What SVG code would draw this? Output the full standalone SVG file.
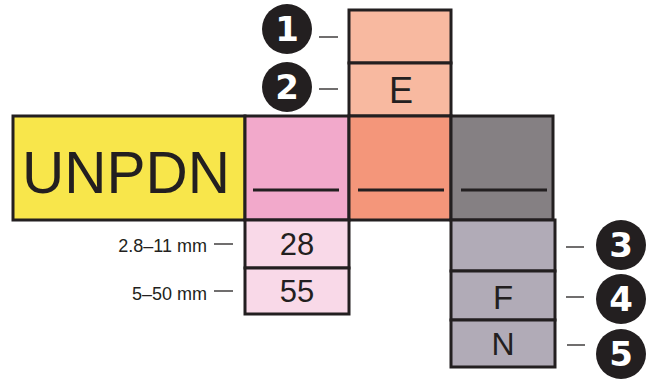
<svg xmlns="http://www.w3.org/2000/svg" width="656" height="383" viewBox="0 0 656 383">
<style>
.b{stroke:#231f20;stroke-width:3}
.t{font-family:"Liberation Sans",Arial,sans-serif;fill:#231f20;text-anchor:middle}
.n{font-family:"DejaVu Sans",sans-serif;font-weight:bold;fill:#fff;text-anchor:middle;font-size:34px}
.l{font-family:"Liberation Sans",Arial,sans-serif;fill:#231f20;font-size:18px;text-anchor:end}
.d{stroke:#231f20;stroke-width:1.3}
.u{stroke:#231f20;stroke-width:3}
</style>
<rect width="656" height="383" fill="#fff"/>
<g id="top1"><rect class="b" x="349" y="10" width="102" height="53" fill="#f8b9a0"/></g>
<g id="top2"><rect class="b" x="349" y="63" width="102" height="53" fill="#f8b9a0"/><text class="t" x="401" y="103" font-size="36">E</text></g>
<g id="main-yellow"><rect class="b" x="13" y="116" width="232" height="104" fill="#f8e64b"/><text class="t" x="126" y="193" font-size="60" textLength="208" lengthAdjust="spacingAndGlyphs">UNPDN</text></g>
<g id="main-pink"><rect class="b" x="245" y="116" width="104" height="104" fill="#f2a9cb"/><line class="u" x1="253" y1="190" x2="339" y2="190"/></g>
<g id="main-orange"><rect class="b" x="349" y="116" width="102" height="104" fill="#f4967a"/><line class="u" x1="358" y1="190" x2="444" y2="190"/></g>
<g id="main-gray"><rect class="b" x="451" y="116" width="102" height="104" fill="#858083"/><line class="u" x1="461" y1="190" x2="547" y2="190"/></g>
<g id="pink28"><rect class="b" x="245" y="220" width="104" height="48" fill="#f9d9e8"/><text class="t" x="297" y="255" font-size="31">28</text></g>
<g id="pink55"><rect class="b" x="245" y="268" width="104" height="46" fill="#f9d9e8"/><text class="t" x="297" y="302" font-size="31">55</text></g>
<g id="gray3"><rect class="b" x="451" y="220" width="104" height="51" fill="#b1abb7"/></g>
<g id="gray4"><rect class="b" x="451" y="271" width="104" height="49" fill="#b1abb7"/><text class="t" x="503" y="309" font-size="33">F</text></g>
<g id="gray5"><rect class="b" x="451" y="320" width="104" height="47" fill="#b1abb7"/><text class="t" x="503" y="355" font-size="32">N</text></g>
<g id="badge1"><circle cx="287" cy="29" r="25" fill="#231f20"/><text class="n" x="287" y="41">1</text></g>
<g id="badge2"><circle cx="287" cy="87" r="25" fill="#231f20"/><text class="n" x="287" y="99">2</text></g>
<g id="badge3"><circle cx="621" cy="245" r="25" fill="#231f20"/><text class="n" x="621" y="257">3</text></g>
<g id="badge4"><circle cx="621" cy="299" r="25" fill="#231f20"/><text class="n" x="621" y="311">4</text></g>
<g id="badge5"><circle cx="621" cy="354" r="25" fill="#231f20"/><text class="n" x="621" y="366">5</text></g>
<g id="label-28"><text class="l" x="207" y="252">2.8–11 mm</text></g>
<g id="label-55"><text class="l" x="207" y="300">5–50 mm</text></g>
<g id="connectors">
<line class="d" x1="319" y1="37" x2="338" y2="37"/>
<line class="d" x1="319" y1="89" x2="338" y2="89"/>
<line class="d" x1="214" y1="244" x2="233" y2="244"/>
<line class="d" x1="214" y1="291" x2="233" y2="291"/>
<line class="d" x1="566" y1="247" x2="584" y2="247"/>
<line class="d" x1="566" y1="297" x2="584" y2="297"/>
<line class="d" x1="567" y1="345" x2="585" y2="345"/>
</g>
</svg>
